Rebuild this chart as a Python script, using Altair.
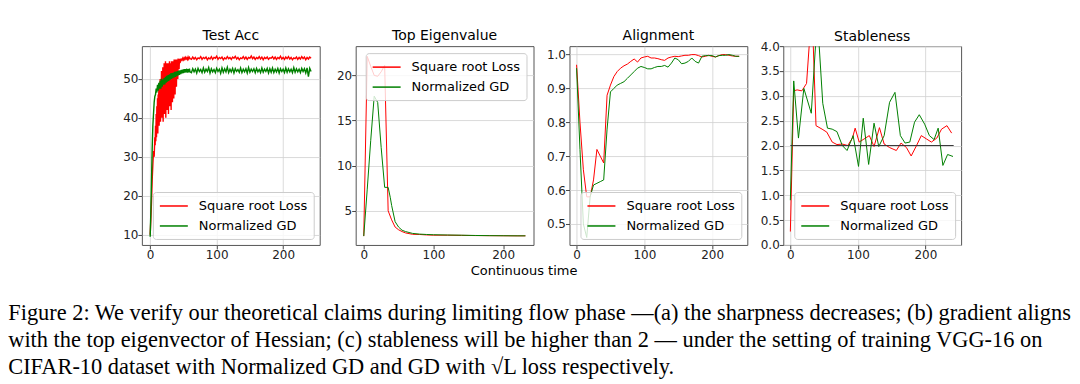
import altair as alt
import pandas as pd

SERIES = ["Square root Loss", "Normalized GD"]
COLORS = ["#ff0000", "#008000"]

# ---------------- Panel 1: Test Acc ----------------
acc_x_sqrt = (list(range(0, 8)) + [7.5 + 0.5 * i for i in range(75)]
              + list(range(45, 61)) + list(range(62, 243, 2)))
acc_sqrt = [
    10.0, 14.0, 18.5, 24.0, 28.0, 31.5, 30.0, 35.0,
    33.0, 38.0, 34.0, 41.0, 35.0, 43.0, 37.0, 45.0, 36.0, 46.0,
    40.0, 48.0, 38.0, 47.0, 41.0, 50.0, 39.0, 49.0, 43.0, 52.0,
    40.0, 51.0, 44.0, 53.0, 39.0, 52.0, 45.0, 54.0, 41.0, 53.0,
    46.0, 54.5, 40.0, 53.0, 47.0, 54.0, 42.0, 52.0, 48.0, 54.0,
    41.0, 53.5, 46.0, 54.5, 43.0, 53.0, 49.0, 54.0, 42.0, 54.5,
    47.0, 53.5, 44.0, 54.5, 50.0, 54.0, 45.0, 55.0, 49.0, 54.5,
    46.0, 55.0, 51.0, 54.5, 48.0, 55.0, 52.0, 54.8, 50.0, 55.2,
    53.0, 54.8, 52.5, 55.1, 54.0,
    55.2, 54.6, 55.0, 54.8, 55.3, 54.9, 55.4, 55.0, 55.5, 55.1,
    55.4, 55.0, 55.6, 55.1, 55.5, 55.2,
    55.0, 55.6, 55.1, 55.5, 54.9, 55.4, 55.2, 55.7, 55.0, 55.5,
    55.2, 55.6, 54.9, 55.4, 55.1, 55.7, 55.0, 55.5, 55.3, 55.8,
    55.0, 55.5, 55.2, 55.6, 54.9, 55.4, 55.1, 55.7, 55.2, 55.5,
    55.0, 55.6, 55.3, 55.8, 55.1, 55.5, 54.9, 55.4, 55.2, 55.7,
    55.1, 55.6, 55.0, 55.5, 55.3, 55.9, 55.2, 55.6, 55.0, 55.5,
    55.2, 55.7, 55.1, 55.6, 54.9, 55.5, 55.2, 55.6, 55.0, 55.4,
    55.3, 55.7, 55.1, 55.6, 55.0, 55.5, 55.2, 55.8, 55.1, 55.5,
    55.0, 55.6, 55.2, 55.7, 55.1, 55.5, 54.9, 55.4, 55.2, 55.6,
    55.0, 55.5, 55.1, 55.7, 55.2, 55.6, 54.9, 55.5, 55.1, 55.6,
    55.3,
]
acc_x_ngd = list(range(0, 61)) + list(range(62, 243, 2))
acc_ngd = [
    9.5, 16.0, 24.0, 32.0, 38.0, 41.0, 44.0, 45.5, 46.0, 47.5,
    46.5, 48.5, 47.0, 49.0, 47.5, 49.5, 47.5, 50.0, 48.0, 49.8,
    48.5, 50.2, 48.6, 50.5, 49.0, 50.8, 49.3, 51.0, 49.5, 51.2,
    49.8, 51.4, 50.0, 51.5, 50.2, 51.6, 50.4, 51.8, 50.5, 51.9,
    50.7, 52.0, 50.9, 52.1, 51.0, 52.2, 51.2, 52.3, 51.4, 52.4,
    51.5, 52.5, 51.6, 52.5, 51.7, 52.6, 51.6, 52.5, 51.7, 52.6,
    51.8,
    51.6, 52.6, 51.8, 52.5, 51.5, 52.7, 51.9, 52.4, 51.6, 52.8,
    51.7, 52.5, 51.9, 52.9, 51.5, 52.6, 51.8, 52.4, 51.6, 52.7,
    51.9, 52.5, 51.4, 52.8, 51.7, 52.6, 51.8, 53.0, 51.6, 52.5,
    51.8, 52.7, 51.5, 52.6, 51.9, 52.4, 51.7, 52.8, 51.6, 52.5,
    51.8, 52.6, 51.5, 52.9, 51.7, 52.5, 51.9, 52.6, 51.6, 52.7,
    51.8, 52.4, 51.6, 52.8, 51.7, 52.5, 51.9, 52.7, 51.5, 52.6,
    51.7, 52.8, 51.6, 52.5, 51.8, 52.7, 51.5, 52.6, 51.9, 52.5,
    51.6, 52.8, 51.7, 52.6, 51.8, 52.5, 51.6, 52.9, 51.7, 52.6,
    51.8, 52.5, 51.6, 52.7, 51.9, 52.6, 51.5, 52.8, 50.6, 52.7,
    51.9,
]

# ---------------- Panel 2: Top Eigenvalue ----------------
eig_x_sqrt = [0, 5, 10, 15, 20, 25, 30, 35, 40, 45, 50, 55, 60, 70, 80, 90,
              100, 120, 140, 160, 180, 200, 220, 232]
eig_sqrt = [2.2, 22.1, 21.0, 20.0, 19.9, 20.4, 21.1, 5.0, 4.0, 3.2, 2.9, 2.7,
            2.55, 2.4, 2.38, 2.33, 2.3, 2.3, 2.28, 2.26, 2.25, 2.24, 2.23, 2.23]
eig_x_ngd = [0, 5, 10, 15, 20, 25, 30, 35, 38, 40, 45, 50, 55, 60, 70, 80, 90,
             100, 120, 140, 160, 180, 200, 220, 232]
eig_ngd = [2.2, 7.4, 12.8, 17.7, 17.0, 12.0, 7.6, 7.6, 6.5, 5.6, 3.8, 3.2,
           2.85, 2.7, 2.5, 2.42, 2.38, 2.35, 2.32, 2.3, 2.27, 2.25, 2.24,
           2.23, 2.23]

# ---------------- Panel 3: Alignment ----------------
al_x = list(range(0, 241, 5))
al_sqrt = [0.97, 0.80, 0.66, 0.58, 0.58, 0.63, 0.72, 0.70, 0.68, 0.88,
           0.91, 0.935, 0.95, 0.96, 0.967, 0.972, 0.98, 0.987, 0.978, 0.99,
           0.993, 0.995, 0.99, 0.99, 0.988, 0.985, 0.983, 0.99, 0.993, 0.995,
           0.994, 0.996, 0.998, 0.998, 1.0, 1.0, 0.997, 0.993, 0.995, 0.998,
           0.995, 0.993, 0.997, 1.0, 1.0, 0.998, 0.996, 0.995, 0.995]
al_ngd = [0.96, 0.72, 0.50, 0.46, 0.58, 0.615, 0.62, 0.625, 0.63, 0.78,
          0.89, 0.90, 0.91, 0.915, 0.92, 0.93, 0.94, 0.95, 0.96, 0.965,
          0.962, 0.958, 0.958, 0.962, 0.965, 0.965, 0.968, 0.963, 0.975, 0.99,
          0.985, 0.973, 0.975, 0.98, 0.99, 0.98, 0.975, 0.995, 0.997, 0.997,
          0.997, 0.993, 0.997, 0.998, 0.998, 1.0, 0.998, 0.995, 0.995]

# ---------------- Panel 4: Stableness ----------------
st_x_sqrt = [0, 5, 10, 17, 24, 32, 38, 47, 54, 62, 69, 77, 85, 92, 96, 102,
             109, 117, 124, 132, 139, 147, 157, 164, 172, 179, 187, 194, 202,
             209, 217, 224, 232, 239]
st_sqrt = [0.27, 3.1, 3.12, 3.1, 3.25, 4.8, 2.4, 2.33, 2.27, 2.07, 2.02, 2.03,
           2.0, 2.15, 2.35, 2.07, 2.13, 2.2, 1.98, 2.36, 2.03, 1.96, 1.9, 2.05,
           1.96, 1.79, 2.0, 2.2, 2.13, 2.07, 2.15, 2.33, 2.4, 2.25]
st_x_ngd = [0, 5, 12, 20, 31, 40, 48, 55, 62, 69, 77, 84, 93, 101, 108, 116,
            124, 131, 139, 147, 155, 163, 170, 177, 184, 191, 199, 206, 213,
            219, 226, 233, 241]
st_ngd = [0.9, 3.3, 2.15, 3.15, 2.65, 4.6, 2.85, 2.35, 2.33, 2.28, 2.0, 1.9,
          2.2, 1.58, 2.55, 1.62, 2.45, 1.98, 2.2, 2.87, 3.07, 2.2, 2.05, 2.07,
          2.47, 2.62, 2.43, 2.2, 2.12, 2.35, 1.6, 1.82, 1.78]
ref_level = [2.0]
ref_start = [0]
ref_end = [242]

TITLES = ["Test Acc", "Top Eigenvalue", "Alignment", "Stableness"]
X_TICKS = [0, 100, 200]
CAPTION = [
    "Figure 2: We verify our theoretical claims during limiting flow phase —(a) the sharpness decreases; (b) gradient aligns",
    "with the top eigenvector of Hessian; (c) stableness will be higher than 2 — under the setting of training VGG-16 on",
    "CIFAR-10 dataset with Normalized GD and GD with √L loss respectively.",
]


def long_df(xa, ya, xb, yb):
    a = pd.DataFrame({"t": xa, "v": ya, "series": SERIES[0]})
    b = pd.DataFrame({"t": xb, "v": yb, "series": SERIES[1]})
    return pd.concat([a, b], ignore_index=True)


W, H = 178, 199


def axes(xdom, ydom, yvals, yfmt, xgrid=True, xaxis_extra=None):
    xa = dict(values=X_TICKS, grid=xgrid, title=None, labelPadding=1,
              labelOverlap=False)
    if xaxis_extra:
        xa.update(xaxis_extra)
    x = alt.X("t:Q", scale=alt.Scale(domain=xdom, nice=False, zero=False),
              axis=alt.Axis(**xa))
    y = alt.Y("v:Q", scale=alt.Scale(domain=ydom, nice=False, zero=False),
              axis=alt.Axis(values=yvals, format=yfmt, title=None,
                            labelPadding=0, labelOverlap=False))
    return x, y


def panel(df, title, x, y, orient, title_dy=0, sw=1.0, legend_offset=6):
    return alt.Chart(df).mark_line(strokeWidth=sw, clip=True).encode(
        x=x, y=y,
        color=alt.Color("series:N", sort=SERIES,
                        scale=alt.Scale(domain=SERIES, range=COLORS),
                        legend=alt.Legend(orient=orient, title=None,
                                          offset=legend_offset)),
    ).properties(
        width=W, height=H,
        title=alt.TitleParams(title, font="DejaVu Sans", fontSize=14,
                              fontWeight="normal", color="black", offset=3,
                              dy=title_dy),
    )


x1, y1 = axes([-12.5, 255], [7.4, 58.4], [10, 20, 30, 40, 50], "d")
p1 = panel(long_df(acc_x_sqrt, acc_sqrt, acc_x_ngd, acc_ngd), TITLES[0], x1, y1,
           "bottom-right", sw=1.4)

x2, y2 = axes([-11.6, 243.6], [1.22, 23.24], [5, 10, 15, 20], "d", xgrid=False,
              xaxis_extra=dict(title="Continuous time", titleX=168, titleY=26,
                               titleAlign="center", titleBaseline="middle",
                               titleFont="DejaVu Sans", titleFontSize=13,
                               titleFontWeight="normal", titleColor="black"))
p2 = panel(long_df(eig_x_sqrt, eig_sqrt, eig_x_ngd, eig_ngd), TITLES[1], x2, y2,
           "top-right", legend_offset=7)

x3, y3 = axes([-10.5, 252], [0.438, 1.025], [0.5, 0.6, 0.7, 0.8, 0.9, 1.0], ".1f")
p3 = panel(long_df(al_x, al_sqrt, al_x, al_ngd), TITLES[2], x3, y3, "bottom-right")

x4, y4 = axes([-10.5, 253], [0, 4], [0, 0.5, 1, 1.5, 2, 2.5, 3, 3.5, 4], ".1f")
p4_lines = panel(long_df(st_x_sqrt, st_sqrt, st_x_ngd, st_ngd), TITLES[3], x4, y4,
                 "bottom-right", title_dy=7)
ref_df = pd.DataFrame({"t": ref_start, "t2": ref_end, "v": ref_level})
p4_rule = alt.Chart(ref_df).mark_rule(color="#333333", strokeWidth=1).encode(
    x=x4, x2="t2:Q", y=y4)
p4 = alt.layer(p4_lines, p4_rule)

chart = alt.hconcat(p1, p2, p3, p4, spacing=36, bounds="flush").resolve_scale(
    color="independent"
).properties(
    title=alt.TitleParams(CAPTION, orient="bottom", anchor="start",
                          font="Liberation Serif", fontSize=22.4,
                          fontWeight="normal", color="black", lineHeight=27,
                          offset=24, dx=-114),
    padding={"left": 0, "top": 20, "right": 0, "bottom": 0},
).configure_view(
    stroke="#555555", strokeWidth=1
).configure_axis(
    labelFont="DejaVu Sans", labelFontSize=12, labelColor="#222222",
    tickColor="#444444", tickSize=4, domain=False,
    gridColor="#d0d0d0", gridWidth=0.8,
).configure_legend(
    padding=6, fillColor="rgba(255,255,255,0.8)",
    strokeColor="#cccccc", cornerRadius=3, labelFont="DejaVu Sans",
    labelFontSize=13, labelColor="black", labelLimit=300, labelOffset=17,
    symbolType="M-2,0H2", symbolSize=196, symbolStrokeWidth=1.5,
    symbolOffset=7, rowPadding=5,
)

chart.save("out.html", embed_options={"renderer": "svg", "actions": False})
